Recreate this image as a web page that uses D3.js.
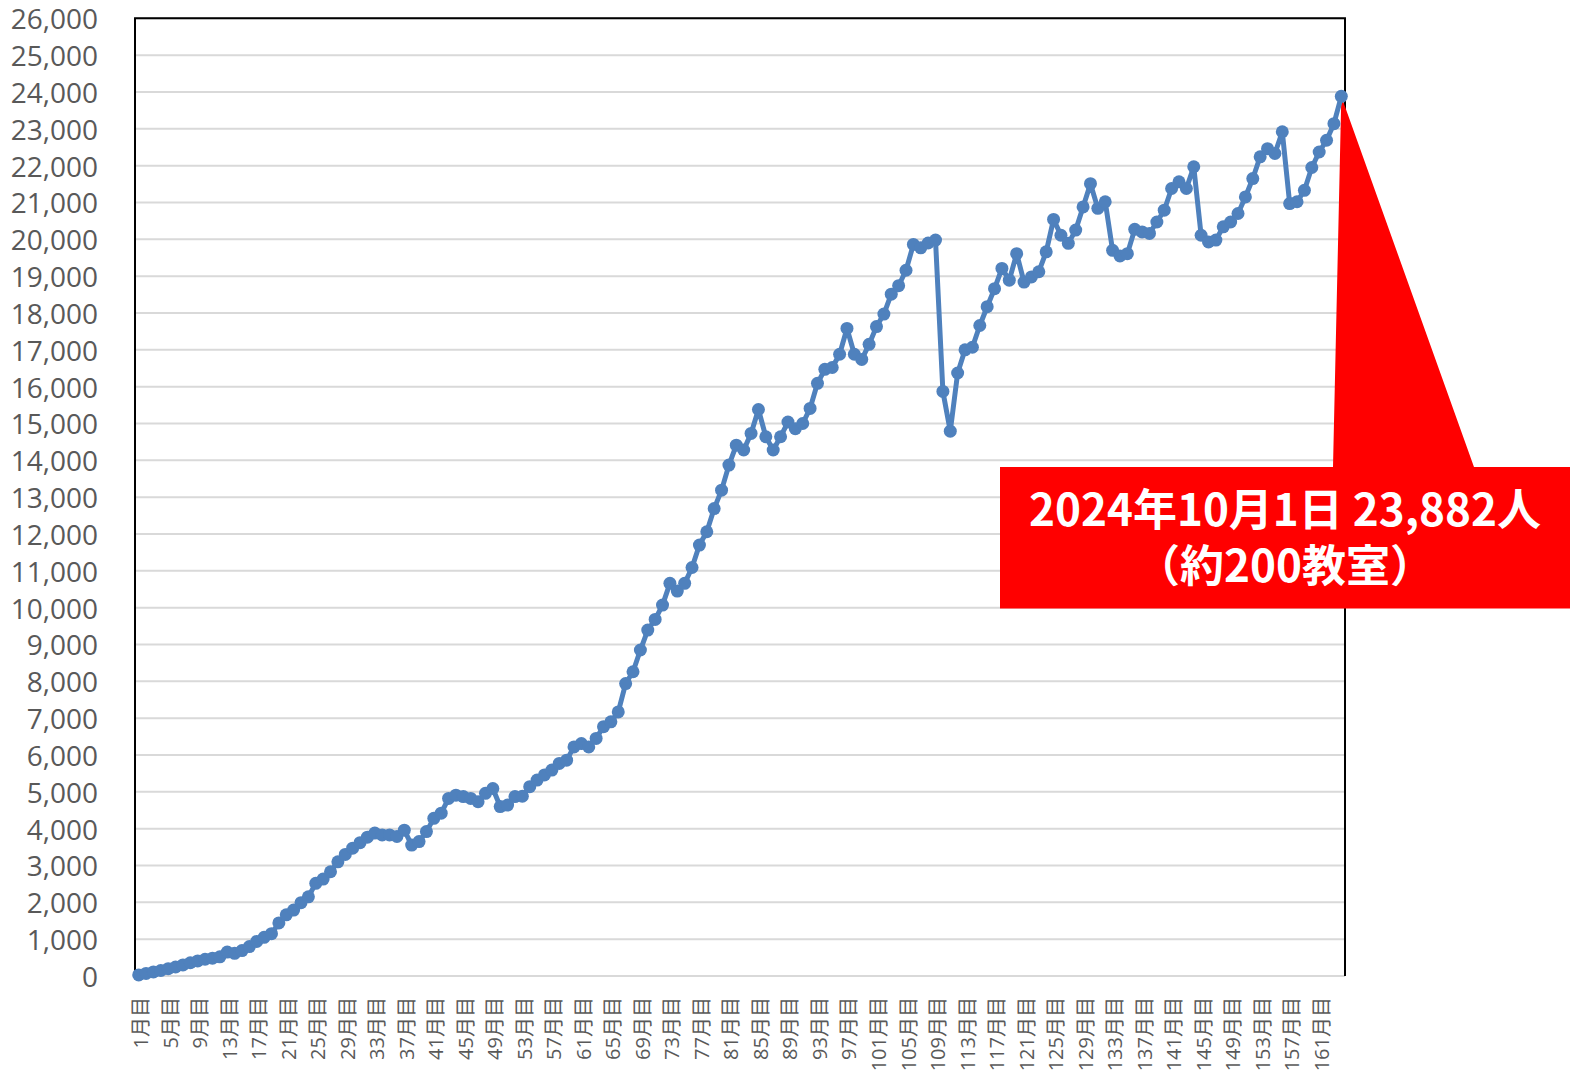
<!DOCTYPE html>
<html>
<head>
<meta charset="utf-8">
<script src="https://cdn.jsdelivr.net/npm/d3@7"></script>
<style>
  body { margin: 0; background: #fff; }
  svg { display: block; }
</style>
</head>
<body>
<svg width="1577" height="1077"></svg>
<script>
// monthly student count, month 1 .. month 164
const values = [
  30, 70, 110, 150, 200, 245, 300, 360, 410, 455, 485, 520,
  650, 615, 690, 800, 940, 1050, 1150, 1440, 1660, 1790, 1990, 2150,
  2515, 2630, 2830, 3100, 3300, 3470, 3620, 3770, 3880, 3830, 3830, 3790,
  3960, 3555, 3650, 3920, 4280, 4420, 4820, 4910, 4870, 4820, 4730, 4960,
  5090, 4600, 4640, 4870, 4880, 5140, 5320, 5460, 5590, 5770, 5860, 6220,
  6310, 6220, 6450, 6770, 6900, 7170, 7940, 8260, 8850, 9390, 9680, 10070,
  10660, 10450, 10660, 11090, 11700, 12060, 12690, 13190, 13870, 14410, 14280, 14730,
  15380, 14640, 14280, 14640, 15040, 14860, 15000, 15410, 16090, 16470, 16520, 16880,
  17580, 16880, 16740, 17150, 17630, 17970, 18510, 18740, 19160, 19860, 19770, 19900,
  19980, 15870, 14790, 16370, 17000, 17070, 17660, 18170, 18660, 19210, 18890, 19610,
  18840, 18980, 19120, 19660, 20540, 20110, 19890, 20250, 20880, 21510, 20840, 21020,
  19700, 19550, 19610, 20270, 20200, 20160, 20470, 20790, 21380, 21560, 21380, 21970,
  20110, 19930, 19980, 20340, 20470, 20700, 21150, 21650, 22240, 22460, 22330, 22920,
  20970, 21020, 21330, 21950, 22370, 22690, 23140, 23882
];
const months = values.map((d, i) => (i + 1) + "月目");
const yTicks = d3.range(0, 26001, 1000);
const labelEvery = 4;
const noteLines = ["2024年10月1日 23,882人", "（約200教室）"];

(function () {
  "use strict";
  const svg = d3.select("svg");
  const plotLeft = 135, plotRight = 1345, plotTop = 18.3, plotBottom = 976;

  const x = d3.scalePoint().domain(months).range([plotLeft, plotRight]).padding(0.5);
  const y = d3.scaleLinear().domain([0, 26000]).range([plotBottom, plotTop]);

  // gridlines
  svg.append("g")
    .selectAll("line")
    .data(yTicks)
    .join("line")
    .attr("x1", plotLeft)
    .attr("x2", plotRight)
    .attr("y1", d => y(d))
    .attr("y2", d => y(d))
    .attr("stroke", "#d9d9d9")
    .attr("stroke-width", 2);

  // y labels
  svg.append("g")
    .selectAll("text")
    .data(yTicks)
    .join("text")
    .attr("x", 98)
    .attr("y", d => y(d))
    .attr("text-anchor", "end")
    .attr("dominant-baseline", "central")
    .attr("font-family", "'Open Sans', sans-serif")
    .attr("font-size", 28)
    .attr("fill", "#595959")
    .text(d => d3.format(",")(d));

  // plot border (left, top, right)
  svg.append("path")
    .attr("d", `M${plotLeft},${plotBottom} V${plotTop} H${plotRight} V${plotBottom}`)
    .attr("fill", "none")
    .attr("stroke", "#000")
    .attr("stroke-width", 2);

  // x labels, rotated
  svg.append("g")
    .selectAll("text")
    .data(months.filter((d, i) => i % labelEvery === 0))
    .join("text")
    .attr("transform", d => `translate(${x(d) + 2},997) rotate(-90)`)
    .attr("text-anchor", "end")
    .attr("dominant-baseline", "central")
    .attr("font-family", "'Open Sans', 'Noto Sans CJK JP', sans-serif")
    .attr("font-size", 20)
    .attr("fill", "#595959")
    .text(d => d);

  // callout
  const last = months.length - 1;
  const tipX = x(months[last]), tipY = y(values[last]);
  const box = { x0: 1000, x1: 1570, y0: 467, y1: 608.5 };
  svg.append("path")
    .attr("d", `M${box.x0},${box.y0} H1333 L${tipX},${tipY} L1474,${box.y0} H${box.x1} V${box.y1} H${box.x0} Z`)
    .attr("fill", "#ff0000");

  svg.append("text")
    .attr("text-anchor", "middle")
    .attr("font-family", "'Noto Sans CJK JP', sans-serif")
    .attr("font-weight", "bold")
    .attr("font-size", 44)
    .attr("fill", "#fff")
    .selectAll("tspan")
    .data(noteLines)
    .join("tspan")
    .attr("x", (box.x0 + box.x1) / 2)
    .attr("y", (d, i) => 526 + i * 56)
    .text(d => d);

  // series
  const line = d3.line()
    .x((d, i) => x(months[i]))
    .y(d => y(d));

  svg.append("path")
    .datum(values)
    .attr("d", line)
    .attr("fill", "none")
    .attr("stroke", "#4f81bd")
    .attr("stroke-width", 5)
    .attr("stroke-linejoin", "round");

  svg.append("g")
    .selectAll("circle")
    .data(values)
    .join("circle")
    .attr("cx", (d, i) => x(months[i]))
    .attr("cy", d => y(d))
    .attr("r", 6.5)
    .attr("fill", "#4f81bd");
})();
</script>
</body>
</html>
